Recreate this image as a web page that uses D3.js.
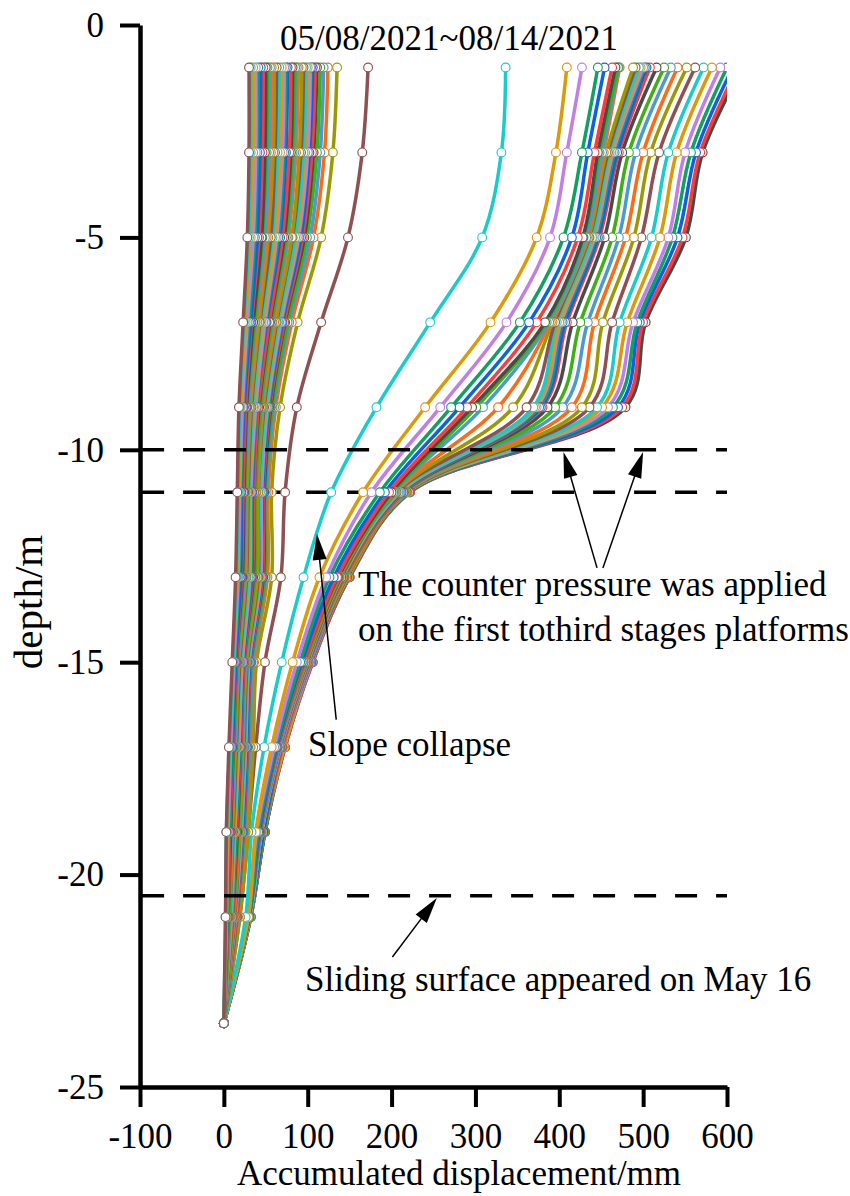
<!DOCTYPE html>
<html>
<head>
<meta charset="utf-8">
<script src="https://cdn.jsdelivr.net/npm/d3@7"></script>
<style>
  body { margin: 0; background: #fff; }
  svg { display: block; }
  text { font-family: "Liberation Serif", "Times New Roman", serif; fill: #000; }
</style>
</head>
<body>
<svg id="chart" width="850" height="1196"></svg>
<script>
// Inclinometer readings: depth of each gauge point (m)
const depths = [-1, -3, -5, -7, -9, -11, -13, -15, -17, -19, -21, -23.5];

// Accumulated displacement (mm) per reading, one row per survey, in time order
const earlyRuns = [
  [30,30,28,23,18,16,14,10,6,3,2,0],
  [32,32,30,24,19,17,15,11,7,3,2,0],
  [35,35,32,26,20,18,16,11,7,4,3,0],
  [38,38,35,28,22,19,17,12,8,5,3,0],
  [41,40,37,30,23,20,18,13,9,6,4,0],
  [44,43,40,32,24,21,20,14,10,6,4,0],
  [47,46,42,33,26,23,21,15,11,7,5,0],
  [50,49,45,35,27,24,22,15,11,8,5,0],
  [52,51,46,37,28,25,23,16,12,8,6,0],
  [55,54,49,38,30,26,24,17,13,9,6,0],
  [57,56,51,40,31,26,25,17,13,10,6,0],
  [60,59,53,42,32,28,26,18,14,10,7,0],
  [63,61,56,43,33,29,27,19,15,11,7,0],
  [66,64,58,45,35,30,29,20,16,12,8,0],
  [69,67,61,47,36,31,30,21,17,13,8,0],
  [72,70,63,49,38,32,31,22,18,13,9,0],
  [74,72,65,50,39,33,32,22,18,14,9,0],
  [76,74,67,51,39,34,33,23,19,14,9,0],
  [80,78,70,54,41,36,34,24,20,15,10,0],
  [82,80,72,55,42,36,35,24,20,16,10,0],
  [85,82,74,57,44,38,37,25,21,17,11,0],
  [87,84,76,58,45,38,37,26,22,17,11,0],
  [89,86,77,60,46,39,38,26,22,18,12,0],
  [93,90,81,62,47,41,40,27,23,19,12,0],
  [95,92,82,63,48,41,41,28,24,19,13,0],
  [98,95,85,65,50,43,42,29,25,20,13,0],
  [100,97,87,66,51,43,43,29,25,20,13,0],
  [103,100,89,68,52,45,44,30,26,21,14,0],
  [104,100,90,69,53,45,44,30,26,21,14,0],
  [106,102,92,70,54,46,45,31,27,22,14,0],
  [109,105,94,72,55,47,46,32,28,23,15,0],
  [111,107,96,73,56,48,47,32,28,23,15,0],
  [115,111,99,76,58,49,49,33,29,24,16,0],
  [119,115,103,78,60,51,50,35,31,25,16,0],
  [124,120,107,81,62,53,52,36,32,26,17,0],
  [135,130,116,88,67,57,57,39,35,29,19,0]
];

const collapseRuns = [
  [172,165,148,116,87,73,68,49,38,29,19,0],
  [336,331,308,246,182,128,95,69,48,33,26,0],
  [409,396,373,318,240,166,114,82,57,38,29,0],
  [427,409,389,337,258,176,122,87,60,39,29,0],
  [446,427,405,353,271,186,126,91,62,41,30,0],
  [454,434,415,364,281,192,131,93,63,42,30,0],
  [463,442,422,373,290,197,135,95,64,43,30,0]
];

const lateRuns = [
  [467,446,428,383,296,200,136,95,64,43,30,0],
  [470,448,429,385,301,202,137,97,64,43,30,0],
  [471,451,432,388,309,203,137,97,66,44,30,0],
  [472,453,433,390,327,204,138,98,66,44,30,0],
  [488,456,435,392,345,205,138,98,66,44,30,0],
  [491,458,436,395,361,206,140,99,67,44,30,0],
  [495,460,439,397,369,208,140,99,67,45,31,0],
  [497,462,440,400,371,209,141,99,67,45,31,0],
  [500,464,442,402,373,210,141,100,68,45,31,0],
  [502,466,444,404,376,211,142,100,68,45,31,0],
  [504,469,446,407,378,212,142,100,68,47,31,0],
  [508,471,448,409,380,214,143,101,69,47,31,0],
  [516,475,454,416,386,214,143,101,69,47,31,0],
  [525,483,463,425,395,215,144,101,69,47,31,0],
  [533,491,471,434,404,216,144,103,69,47,31,0],
  [541,500,479,442,415,217,146,103,70,47,31,0],
  [552,509,489,452,427,217,146,103,70,48,31,0],
  [562,519,498,463,436,218,147,104,70,48,32,0],
  [572,530,510,472,445,218,147,104,70,48,32,0],
  [582,540,520,481,451,219,148,104,72,48,32,0],
  [592,550,530,488,458,219,148,105,72,48,32,0],
  [600,557,535,493,464,221,149,105,72,49,32,0],
  [607,563,541,496,470,221,149,105,72,49,32,0],
  [613,568,547,500,475,222,150,106,73,49,32,0],
  [618,571,551,503,479,222,150,106,73,49,32,0]
];

// Line colours, cycled over the surveys
const palette = ["#8E5050","#17CCCC","#DB9A06","#C07FE6","#10A060","#0A62E6",
                 "#FF3A3A","#4A4A4A","#3DB016","#4A9AD2","#FF6A12","#9A9A00"];

const xTicks = [-100, 0, 100, 200, 300, 400, 500, 600];
const yTicks = [0, -5, -10, -15, -20, -25];
const guideDepths = [-10, -11, -20.5];
const titleText = "05/08/2021~08/14/2021";

const runs = earlyRuns.concat(collapseRuns, lateRuns);

const svg = d3.select("#chart");
const x = d3.scaleLinear().domain([-100, 600]).range([140, 727]);
const y = d3.scaleLinear().domain([0, -25]).range([25, 1087]);

svg.append("rect").attr("width", 850).attr("height", 1196).attr("fill", "#fff");

svg.append("defs").append("clipPath").attr("id", "plot-area")
  .append("rect").attr("x", 140).attr("y", 20).attr("width", 587).attr("height", 1067);

const profile = d3.line()
  .x(d => x(d.v))
  .y(d => y(d.depth))
  .curve(d3.curveCatmullRom.alpha(0.5));

const series = runs.map((row, i) => ({
  color: palette[i % palette.length],
  points: depths.map((depth, j) => ({ depth, v: row[j] }))
}));

// Displacement profiles (earliest survey drawn last, on top)
const lineLayer = svg.append("g").attr("clip-path", "url(#plot-area)");
lineLayer.selectAll("path")
  .data(series.slice().reverse())
  .join("path")
  .attr("d", s => profile(s.points))
  .attr("fill", "none")
  .attr("stroke", s => s.color)
  .attr("stroke-width", 3.5)
  .attr("stroke-linejoin", "round")
  .attr("stroke-linecap", "round");

// Dashed reference depths
svg.append("g").selectAll("line")
  .data(guideDepths)
  .join("line")
  .attr("x1", x(-97.5)).attr("x2", x(600))
  .attr("y1", d => y(d)).attr("y2", d => y(d))
  .attr("stroke", "#000")
  .attr("stroke-width", 3.5)
  .attr("stroke-dasharray", "22 19");

// Gauge point markers
const markLayer = svg.append("g").attr("clip-path", "url(#plot-area)");
series.slice().reverse().forEach(s => {
  markLayer.append("g").selectAll("circle")
    .data(s.points)
    .join("circle")
    .attr("cx", d => x(d.v))
    .attr("cy", d => y(d.depth))
    .attr("r", 4.4)
    .attr("fill", "#fff")
    .attr("stroke", s.color)
    .attr("stroke-width", 1.1);
});

// Axes
const tickLabel = d => String(d);
const xAxis = svg.append("g")
  .attr("transform", `translate(0,${y(-25)})`)
  .call(d3.axisBottom(x).tickValues(xTicks).tickSize(20).tickSizeOuter(0).tickPadding(16).tickFormat(tickLabel));
const yAxis = svg.append("g")
  .attr("transform", `translate(${x(-100)},0)`)
  .call(d3.axisLeft(y).tickValues(yTicks).tickSize(20).tickSizeOuter(0).tickPadding(16).tickFormat(tickLabel));

[xAxis, yAxis].forEach(g => {
  g.select(".domain").attr("stroke", "#000").attr("stroke-width", 4.5);
  g.selectAll(".tick line").attr("stroke", "#000").attr("stroke-width", 4);
  g.selectAll(".tick text")
    .attr("font-size", 35)
    .attr("font-family", "'Liberation Serif','Times New Roman',serif")
    .attr("fill", "#000");
});

// Axis titles
svg.append("text")
  .attr("x", 459).attr("y", 1185)
  .attr("text-anchor", "middle")
  .attr("font-size", 35)
  .text("Accumulated displacement/mm");

svg.append("text")
  .attr("transform", "translate(42,602) rotate(-90)")
  .attr("text-anchor", "middle")
  .attr("font-size", 41)
  .text("depth/m");

// Period of record
svg.append("text")
  .attr("x", 449).attr("y", 50)
  .attr("text-anchor", "middle")
  .attr("font-size", 35)
  .text(titleText);

// Annotations with arrows
function arrow(x1, y1, x2, y2) {
  const ax1 = x(x1), ay1 = y(y1), ax2 = x(x2), ay2 = y(y2);
  const len = Math.hypot(ax2 - ax1, ay2 - ay1);
  const ux = (ax2 - ax1) / len, uy = (ay2 - ay1) / len;
  const headLen = 26, headHalf = 7;
  const bx = ax2 - ux * headLen, by = ay2 - uy * headLen;
  svg.append("line")
    .attr("x1", ax1).attr("y1", ay1).attr("x2", bx + ux * 2).attr("y2", by + uy * 2)
    .attr("stroke", "#000").attr("stroke-width", 1.5);
  svg.append("path")
    .attr("d", `M${ax2},${ay2}L${bx - uy * headHalf},${by + ux * headHalf}L${bx + uy * headHalf},${by - ux * headHalf}Z`)
    .attr("fill", "#000");
}

arrow(445, -12.78, 405, -10.05);
arrow(452, -12.78, 500, -10.05);
arrow(134, -16.35, 111, -11.98);
arrow(201, -21.94, 254, -20.55);

const notes = [
  { text: "The counter pressure was applied", x: 358, y: 596 },
  { text: "on the first tothird stages platforms", x: 358, y: 641 },
  { text: "Slope collapse", x: 308, y: 756 },
  { text: "Sliding surface appeared on May 16", x: 305, y: 991 }
];
svg.append("g").selectAll("text")
  .data(notes)
  .join("text")
  .attr("x", d => d.x).attr("y", d => d.y)
  .attr("font-size", 35)
  .text(d => d.text);
</script>
</body>
</html>
